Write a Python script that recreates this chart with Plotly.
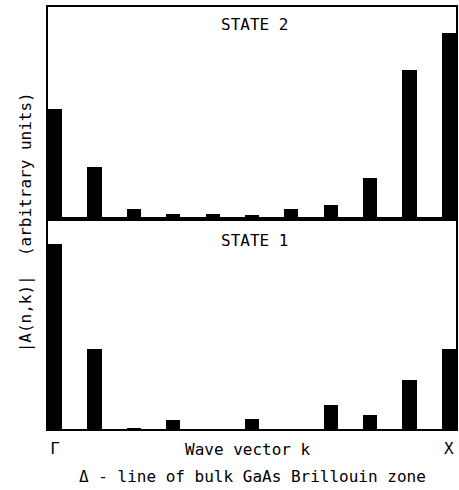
import plotly.graph_objects as go

k_index = list(range(11))
state2 = [0.52, 0.245, 0.047, 0.024, 0.024, 0.019, 0.047, 0.066, 0.193, 0.703, 0.877]
state1 = [0.88, 0.38, 0.004, 0.043, 0.0, 0.05, 0.0, 0.112, 0.067, 0.232, 0.38]
tick_vals = [0, 10]
tick_text = ["Γ", "X"]

FONT = "DejaVu Sans Mono"
BAR_W = 0.36

fig = go.Figure()
fig.add_trace(go.Bar(x=k_index, y=state2, width=BAR_W, marker=dict(color="black", line=dict(width=0)),
                     xaxis="x2", yaxis="y2", showlegend=False, hoverinfo="skip"))
fig.add_trace(go.Bar(x=k_index, y=state1, width=BAR_W, marker=dict(color="black", line=dict(width=0)),
                     xaxis="x", yaxis="y", showlegend=False, hoverinfo="skip"))

xr = [-BAR_W / 2, 10 + BAR_W / 2]
axis_common = dict(showline=True, linecolor="black", linewidth=1.5, mirror=True,
                   showgrid=False, zeroline=False, ticks="")
split = 210 / 422

fig.update_layout(
    width=459, height=490,
    margin=dict(l=48, r=1, t=7, b=61),
    paper_bgcolor="white", plot_bgcolor="white",
    font=dict(family=FONT, size=16, color="black"),
    bargap=0,
    xaxis=dict(range=xr, domain=[0, 1], anchor="y", tickvals=tick_vals, ticktext=tick_text,
               tickfont=dict(size=16), ticklabelstandoff=4, **axis_common),
    yaxis=dict(range=[0, 1], domain=[0, split], anchor="x", showticklabels=False, **axis_common),
    xaxis2=dict(range=xr, domain=[0, 1], anchor="y2", showticklabels=False, **axis_common),
    yaxis2=dict(range=[0, 1], domain=[split, 1], anchor="x2", showticklabels=False, **axis_common),
    annotations=[
        dict(text="STATE 2", xref="paper", yref="paper", x=0.505, y=0.958, showarrow=False,
             font=dict(size=16), xanchor="center", yanchor="middle"),
        dict(text="STATE 1", xref="paper", yref="paper", x=0.505, y=split - 0.05, showarrow=False,
             font=dict(size=16), xanchor="center", yanchor="middle"),
        dict(text="Wave vector k", xref="paper", yref="paper", x=0.49, y=-0.048, showarrow=False,
             font=dict(size=16), xanchor="center", yanchor="middle"),
        dict(text="Δ - line of bulk GaAs Brillouin zone", xref="paper", yref="paper", x=0.5, y=-0.112,
             showarrow=False, font=dict(size=16), xanchor="center", yanchor="middle"),
        dict(text="|A(n,k)|  (arbitrary units)", xref="paper", yref="paper", x=-0.056, y=0.49,
             textangle=-90, showarrow=False, font=dict(size=16), xanchor="center", yanchor="middle"),
    ],
)

fig.write_html("out.html", config={"displayModeBar": False},
               post_script="document.body.style.margin='0';document.body.style.overflow='hidden';")
